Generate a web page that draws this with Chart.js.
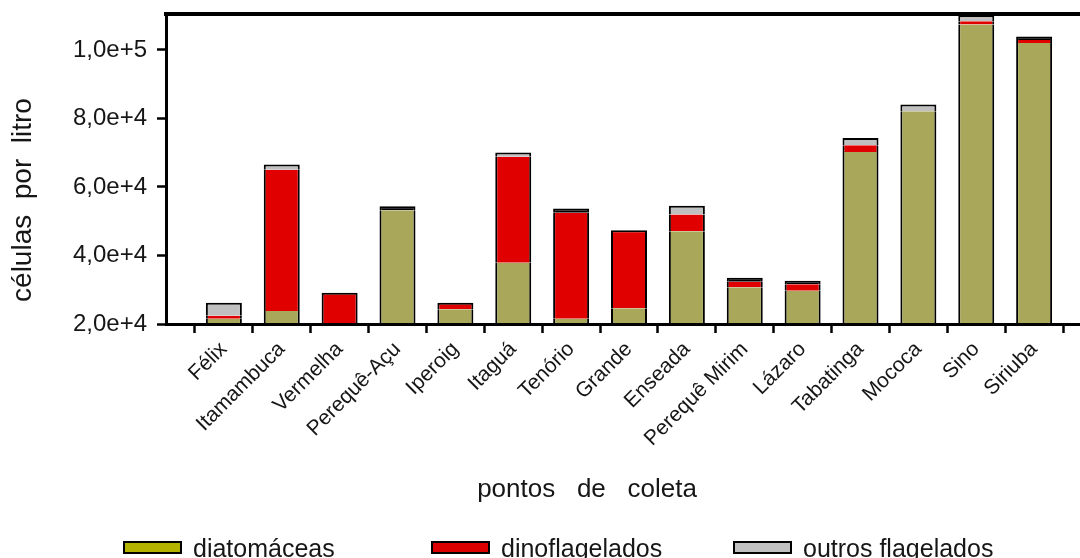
<!DOCTYPE html>
<html>
<head>
<meta charset="utf-8">
<script src="https://cdn.jsdelivr.net/npm/chart.js@4.4.1/dist/chart.umd.min.js"></script>
<style>
  html, body { margin: 0; padding: 0; background: #fff; overflow: hidden; width: 1080px; height: 558px; }
  #wrap { position: absolute; left: 0; top: 0; width: 1100px; height: 558px; }
</style>
</head>
<body>
<div id="wrap"><canvas id="chart"></canvas></div>
<script>
// Sampling points along the coast
const categories = ['Félix', 'Itamambuca', 'Vermelha', 'Perequê-Açu', 'Iperoig', 'Itaguá', 'Tenório',
  'Grande', 'Enseada', 'Perequê Mirim', 'Lázaro', 'Tabatinga', 'Mococa', 'Sino', 'Siriuba'];

// Cell densities (cells per litre) for each group
const diatomaceas      = [21500, 23800, 15000, 53200, 24300, 37900, 21500, 24600, 47100, 30700, 29700, 70200, 82100, 107400, 102000];
const dinoflagelados   = [900, 41200, 14100, 0, 1900, 30900, 31000, 22800, 4900, 1600, 1900, 2000, 0, 1000, 900];
const outrosFlagelados = [3800, 1600, 0, 1200, 0, 1300, 1200, 0, 2500, 1200, 1000, 2100, 1950, 1700, 1000];

const seriesNames = ['diatomáceas', 'dinoflagelados', 'outros flagelados'];
const yTickValues = [20000, 40000, 60000, 80000, 100000];
const yTitle = 'células  por  litro';
const xTitle = 'pontos   de   coleta';

const FONT = '"Liberation Sans", Arial, sans-serif';
const TEXT = '#161616';

// an empty slot at each end leaves one category width of space beside the frame
const labels = ['', ...categories, ''];
const padded = arr => [null, ...arr, null];
const series = [diatomaceas, dinoflagelados, outrosFlagelados];

function isTopSegment(d, i) {
  for (let k = d + 1; k < series.length; k++) if (series[k][i] > 0) return false;
  return true;
}
// outline of each stacked column: sides always, top only on the highest segment
function edges(ctx) {
  const d = ctx.datasetIndex, i = ctx.dataIndex - 1;
  if (i < 0 || i >= categories.length) return 0;
  return { left: 2, right: 2, top: isTopSegment(d, i) ? 2 : 0, bottom: 0 };
}

const barFills = ['#a9a75a', '#e00000', '#c0c0c0'];
const keyFills = ['#b4b400', '#dc0000', '#c0c0c0'];

// a very thin top segment merges with its outline into a dark band
function fill(ctx) {
  const d = ctx.datasetIndex, i = ctx.dataIndex - 1;
  if (d === 2 && i >= 0 && i < categories.length) {
    const v = series[d][i];
    if (v > 0 && v < 1250) return '#000';
  }
  return barFills[d];
}

const overlay = {
  id: 'overlay',
  afterDraw(chart, args, o) {
    const ctx = chart.ctx;
    ctx.save();
    ctx.fillStyle = TEXT;
    ctx.textAlign = 'center';
    ctx.textBaseline = 'middle';
    // y axis title
    ctx.save();
    ctx.font = '28px ' + FONT;
    ctx.translate(o.yTitleAt[0], o.yTitleAt[1]);
    ctx.rotate(-Math.PI / 2);
    ctx.fillText(yTitle, 0, 0);
    ctx.restore();
    // x axis title
    ctx.font = '26px ' + FONT;
    ctx.fillText(xTitle, o.xTitleAt[0], o.xTitleAt[1]);
    // key
    ctx.font = '25px ' + FONT;
    ctx.textAlign = 'left';
    ctx.textBaseline = 'alphabetic';
    chart.data.datasets.forEach((ds, k) => {
      const x = o.key.x[k], y = o.key.y;
      ctx.fillStyle = keyFills[k];
      ctx.fillRect(x, y, o.key.w, o.key.h);
      ctx.strokeStyle = '#000';
      ctx.lineWidth = 2;
      ctx.strokeRect(x + 1, y + 1, o.key.w - 2, o.key.h - 2);
      ctx.fillStyle = TEXT;
      ctx.fillText(ds.label, x + o.key.w + 11, o.key.baseline);
    });
    ctx.restore();
  }
};

const datasets = series.map((arr, k) => ({
  label: seriesNames[k],
  data: padded(arr),
  backgroundColor: fill,
  borderColor: '#000',
  borderWidth: edges,
  borderSkipped: false,
  clip: 0,
  stack: 'total'
}));

new Chart(document.getElementById('chart'), {
  type: 'bar',
  data: { labels, datasets },
  plugins: [overlay],
  options: {
    responsive: true,
    maintainAspectRatio: false,
    devicePixelRatio: 1,
    animation: false,
    events: [],
    layout: { padding: { top: 14, right: 8, left: 0, bottom: 0 } },
    datasets: { bar: { barPercentage: 0.622, categoryPercentage: 1 } },
    plugins: {
      legend: { display: false },
      tooltip: { enabled: false },
      overlay: {
        yTitleAt: [23, 200],
        xTitleAt: [587, 490],
        key: { x: [123, 431, 733], y: 541, w: 59, h: 13, baseline: 557 }
      }
    },
    scales: {
      x: {
        type: 'category',
        stacked: true,
        offset: false,
        grid: { display: true, drawOnChartArea: false, drawTicks: true, tickLength: 9, tickWidth: 2.5, tickColor: '#000' },
        border: { display: true, color: '#000', width: 3, z: 1 },
        ticks: { autoSkip: false, minRotation: 45, maxRotation: 45, padding: 4, color: TEXT, font: { family: FONT, size: 21 } },
        afterFit(s) { s.height = 234; s.paddingLeft = 0; s.paddingRight = 0; }
      },
      xTop: {
        type: 'category',
        position: 'top',
        offset: false,
        grid: { display: false, drawTicks: false },
        border: { display: true, color: '#000', width: 4, z: 1 },
        ticks: { display: false }
      },
      y: {
        stacked: true,
        min: 20000,
        max: 110500,
        grid: { display: true, drawOnChartArea: false, drawTicks: true, tickLength: 9, tickWidth: 2.5, tickColor: '#000' },
        border: { display: true, color: '#000', width: 3, z: 1 },
        ticks: {
          padding: 10,
          color: TEXT,
          font: { family: FONT, size: 24 },
          callback: v => Number(v).toExponential(1).replace('.', ',')
        },
        afterBuildTicks(s) { s.ticks = yTickValues.map(v => ({ value: v })); },
        afterFit(s) { s.width = 166; s.paddingTop = 0; s.paddingBottom = 0; }
      }
    }
  }
});
</script>
</body>
</html>
